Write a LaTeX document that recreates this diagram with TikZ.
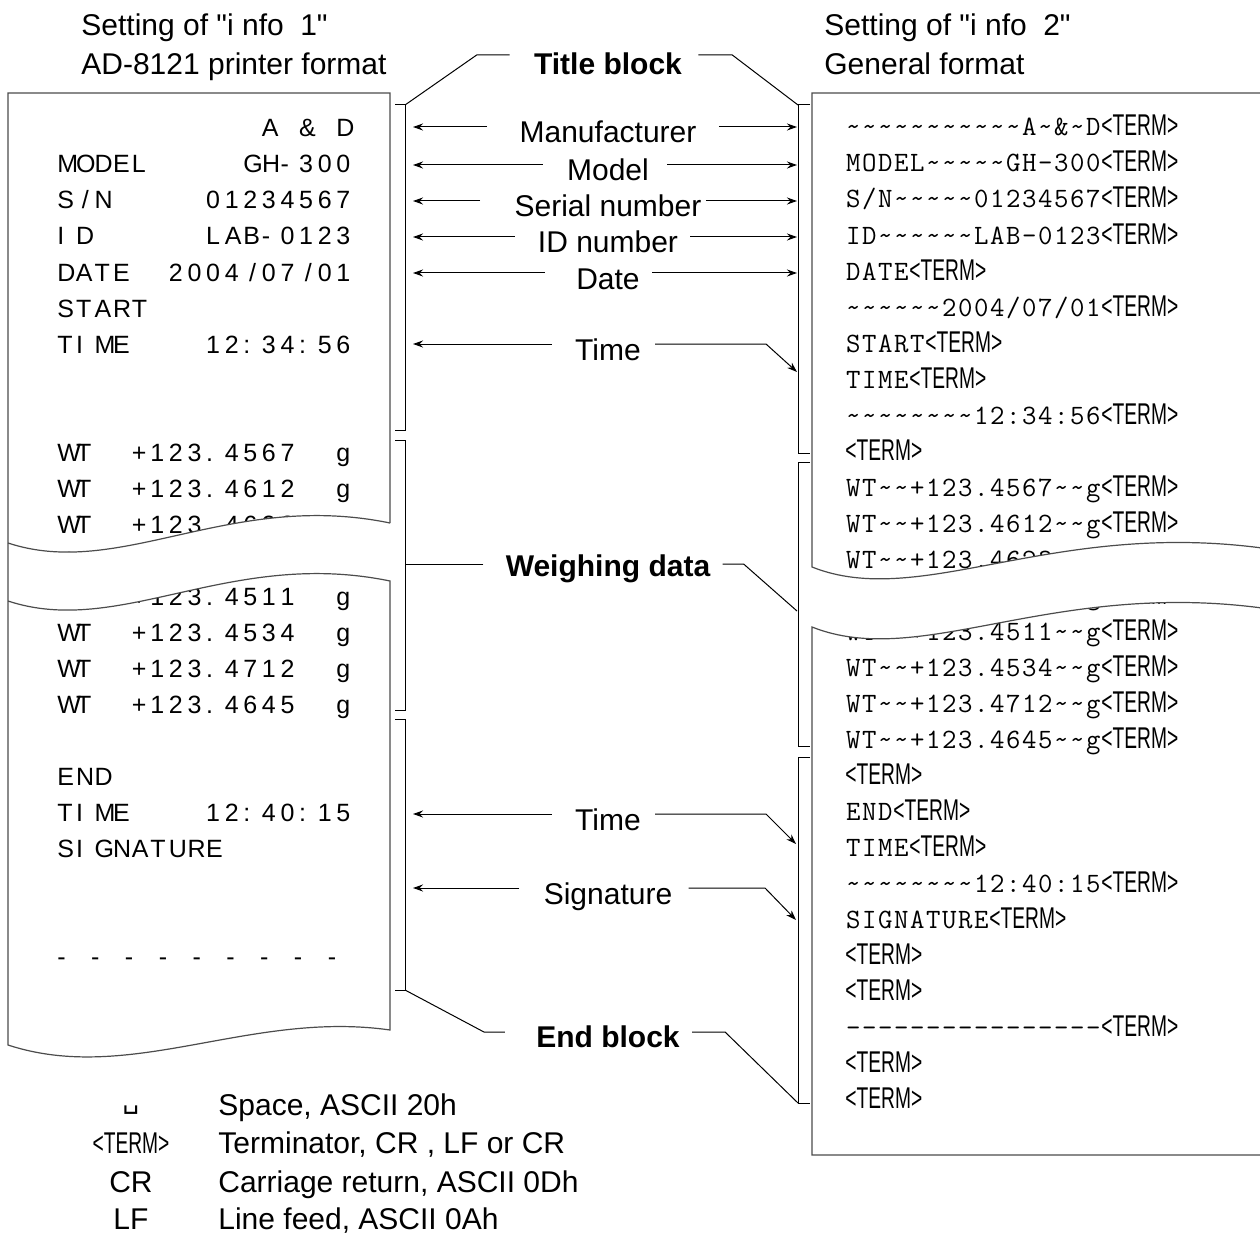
\documentclass[tikz,border=0pt]{standalone}
\usepackage{fontspec}
\usepackage{graphicx}
\usepackage{tikz}
\usetikzlibrary{arrows.meta}
\newfontfamily\arial{Liberation Sans}
\newfontfamily\symfont{DejaVu Sans}

% printer characters, one fixed cell each
\newlength\prnpitch
\newcommand\prnal{l}
\def\prnbox#1{\ifx#1/\makebox[\prnpitch][c]{#1}\else\makebox[\prnpitch][\prnal]{#1}\fi}
\def\prnloop#1{\ifx#1\relax\else\prnbox{#1}\expandafter\prnloop\fi}
\newcommand\prn[2][9.3pt]{{\setlength\prnpitch{#1}\renewcommand\prnal{l}\prnloop#2\relax}}
\newcommand\gen[1]{{\def~{\textasciitilde}\setlength\prnpitch{8pt}\renewcommand\prnal{c}\prnloop#1\relax}}
\newcommand\term{{\arial\fontsize{15pt}{16pt}\selectfont\scalebox{0.64}[1]{\textless TERM\textgreater}}}

\begin{document}
\begin{tikzpicture}[x=0.5pt,y=-0.5pt,
  paper/.style={draw=black!70, line width=0.6pt},
  brk/.style={line width=0.5pt},
  arr/.style={-{Stealth[length=5pt,width=3.5pt]}, line width=0.5pt},
  lbl/.style={font=\arial\fontsize{15pt}{18pt}\selectfont, inner sep=0pt, text height=16pt, text depth=0pt},
  blbl/.style={lbl, font=\arial\bfseries\fontsize{15pt}{18pt}\selectfont},
  hd/.style={font=\arial\fontsize{15pt}{18pt}\selectfont, inner sep=0pt, anchor=base west},
  prnrow/.style={font=\arial\fontsize{12.5pt}{14pt}\selectfont, inner sep=0pt, anchor=base west},
  genrow/.style={font=\ttfamily\fontsize{14pt}{16pt}\selectfont, inner sep=0pt, anchor=base west}]
  \useasboundingbox[fill=white] (0,0) rectangle (1260,1236);

  % headings
  \node[hd] (hd1) at (81,36) {Setting of "i nfo\hspace{0.55em}1"};
  \node[hd] (hd2) at (81,75) {AD-8121 printer format};
  \node[hd] (hd3) at (824,36) {Setting of "i nfo\hspace{0.55em}2"};
  \node[hd] (hd4) at (824,75) {General format};

  % AD-8121 printout
  \foreach \yy/\txt [count=\i] in {128/{~~~~~~~~~~~A~\&~D}, 164/{MODEL~~~~~GH-300},
      200/{S/N~~~~~01234567}, 236/{ID~~~~~~LAB-0123}, 272/{DATE~~2004/07/01},
      308/{START}, 344/{TIME~~~~12:34:56}, 452/{WT~~+123.4567~~g},
      488/{WT~~+123.4612~~g}, 524/{WT~~+123.4623~~g}, 560/{WT~~+123.4590~~g},
      596/{WT~~+123.4511~~g}, 632/{WT~~+123.4534~~g}, 668/{WT~~+123.4712~~g},
      704/{WT~~+123.4645~~g}, 776/{END}, 812/{TIME~~~~12:40:15}, 848/{SIGNATURE}} {
    \node[prnrow] (p\i) at (57,\yy+9) {\expandafter\prn\expandafter{\txt}};
  }
  \node[prnrow] (pdash) at (57,965) {\prn[8.45pt]{-~-~-~-~-~-~-~-~-}};

  % general format output
  \foreach \yy/\txt [count=\i] in {128/{\gen{~~~~~~~~~~~A~\&~D}\term},
      164/{\gen{MODEL~~~~~GH-300}\term}, 200/{\gen{S/N~~~~~01234567}\term},
      236/{\gen{ID~~~~~~LAB-0123}\term}, 272/{\gen{DATE}\term},
      308/{\gen{~~~~~~2004/07/01}\term}, 344/{\gen{START}\term},
      380/{\gen{TIME}\term}, 416/{\gen{~~~~~~~~12:34:56}\term}, 452/{\term},
      488/{\gen{WT~~+123.4567~~g}\term}, 524/{\gen{WT~~+123.4612~~g}\term},
      560/{\gen{WT~~+123.4623~~g}\term}, 596/{\gen{WT~~+123.4590~~g}\term},
      632/{\gen{WT~~+123.4511~~g}\term}, 668/{\gen{WT~~+123.4534~~g}\term},
      704/{\gen{WT~~+123.4712~~g}\term}, 740/{\gen{WT~~+123.4645~~g}\term},
      776/{\term}, 812/{\gen{END}\term}, 848/{\gen{TIME}\term},
      884/{\gen{~~~~~~~~12:40:15}\term}, 920/{\gen{SIGNATURE}\term},
      956/{\term}, 992/{\term}, 1028/{\gen{----------------}\term},
      1064/{\term}, 1100/{\term}} {
    \node[genrow] (g\i) at (845,\yy+8) {\txt};
  }

  % torn paper
  \fill[white] (8,543) .. controls (120,580) and (230,490) .. (390,523)
    -- (390,581) .. controls (230,548) and (120,638) .. (8,601) -- cycle;
  \fill[white] (812,567) .. controls (920,610) and (1050,520) .. (1262,548)
    -- (1262,608) .. controls (1050,580) and (920,670) .. (812,627) -- cycle;
  \draw[paper] (390,523) .. controls (230,490) and (120,580) .. (8,543);
  \draw[paper] (390,523) -- (390,93) -- (8,93) -- (8,1045)
    .. controls (130,1085) and (250,1010) .. (390,1030) -- (390,581)
    .. controls (230,548) and (120,638) .. (8,601);
  \draw[paper] (1270,93) -- (812,93) -- (812,567)
    .. controls (920,610) and (1050,520) .. (1262,548);
  \draw[paper] (1262,608) .. controls (1050,580) and (920,670) .. (812,627)
    -- (812,1155) -- (1270,1155);

  % brackets
  \coordinate (lbx) at (413,0);
  \coordinate (rbx) at (797,0);
  \coordinate (lbr) at (405,0);
  \coordinate (ltop) at (405,105);
  \coordinate (lend) at (405,990);
  \coordinate (rtop) at (798,105);
  \coordinate (rwmid) at (797,611);
  \coordinate (rend) at (798,1103);
  \draw[brk] (395,105) -- (ltop) -- (405,430) -- (395,430);
  \draw[brk] (395,440) -- (405,440) -- (405,710) -- (395,710);
  \draw[brk] (395,719) -- (405,719) -- (lend) -- (395,990);
  \draw[brk] (810,105) -- (rtop) -- (798,453) -- (810,453);
  \draw[brk] (810,462) -- (798,462) -- (798,746) -- (810,746);
  \draw[brk] (810,757) -- (798,757) -- (rend) -- (810,1103);

  % labels
  \node[blbl, text height=20pt] (title) at (608,55) {Title block};
  \node[lbl] (manu) at (608,127) {Manufacturer};
  \node[lbl] (model) at (608,165) {Model};
  \node[lbl] (serial) at (608,201) {Serial number};
  \node[lbl] (idno) at (608,237) {ID number};
  \node[lbl] (date) at (608,273) {Date};
  \node[lbl] (time1) at (608,344) {Time};
  \node[blbl, text height=12pt] (weigh) at (608,564) {Weighing data};
  \node[lbl] (time2) at (608,814) {Time};
  \node[lbl] (sign) at (608,888) {Signature};
  \node[blbl, text height=15pt] (endb) at (608,1032) {End block};

  \foreach \n/\lg/\rg in {manu/16/11, model/12/9, serial/17/2, idno/11.5/6, date/15.5/6} {
    \draw[arr] ([xshift=-\lg pt]\n.west) -- (\n.west -| lbx);
    \draw[arr] ([xshift=\rg pt]\n.east) -- (\n.east -| rbx);
  }
  \coordinate (tipa) at (797,372);
  \coordinate (tipb) at (796,844);
  \coordinate (tipc) at (796,920);
  \draw[arr] ([xshift=-11.5pt]time1.west) -- (time1.west -| lbx);
  \draw[arr] ([xshift=7pt]time1.east) -- (766,344) -- (tipa);
  \draw[arr] ([xshift=-11.5pt]time2.west) -- (time2.west -| lbx);
  \draw[arr] ([xshift=7pt]time2.east) -- (766,814) -- (tipb);
  \draw[arr] ([xshift=-12pt]sign.west) -- (sign.west -| lbx);
  \draw[arr] ([xshift=8pt]sign.east) -- (765,888) -- (tipc);

  \draw[brk] ([xshift=-12pt]title.west) -- ++(-33,0) -- (ltop);
  \draw[brk] ([xshift=8pt]title.east) -- ++(34,0) -- (rtop);
  \draw[brk] ([xshift=-11pt]weigh.west) -- (weigh.west -| lbr);
  \draw[brk] ([xshift=6pt]weigh.east) -- ++(21,0) -- (rwmid);
  \draw[brk] ([xshift=-15.5pt]endb.west) -- ++(-21,0) -- (lend);
  \draw[brk] ([xshift=6pt]endb.east) -- ++(33,0) -- (rend);

  % key
  \node[hd, anchor=base] (ksp) at (131,1108) {\symfont\fontsize{13pt}{14pt}\selectfont ␣};
  \node[hd, anchor=base] (kterm) at (131,1153) {\term};
  \node[hd, anchor=base] (kcr) at (131,1192) {CR};
  \node[hd, anchor=base] (klf) at (131,1229) {LF};
  \node[hd] (dsp) at (218,1115) {Space, ASCII 20h};
  \node[hd] (dterm) at (218,1153) {Terminator, CR , LF or CR};
  \node[hd] (dcr) at (218,1192) {Carriage return, ASCII 0Dh};
  \node[hd] (dlf) at (218,1229) {Line feed, ASCII 0Ah};
\end{tikzpicture}
\end{document}
